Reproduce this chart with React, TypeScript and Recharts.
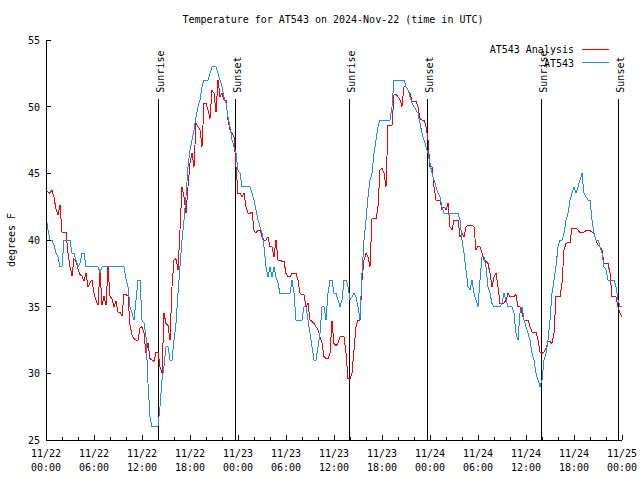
import React from "react";
import { LineChart, Line, XAxis, YAxis, ReferenceLine, ReferenceDot } from "recharts";

const FONT = "'DejaVu Sans Mono', 'Liberation Mono', monospace";
const RED = "#ff0000";
const BLUE = "#1a8cff";
const PLOT = { left: 46, right: 622, top: 40, bottom: 440 };

// readings every 15 minutes, 11/22 00:00 -> 11/25 00:00 (UTC)
const STEP_HOURS = 0.25;

const ANALYSIS = [
  43.75, 43.6, 43.5, 43.75, 43.2, 42.3, 41.9, 42.6, 40.6, 40.6,
  40.6, 39.0, 38.0, 37.3, 38.6, 38.4, 37.8, 37.4, 37.3, 36.9,
  37.5, 36.5, 36.8, 37.0, 36.0, 35.5, 35.1, 37.8, 35.1, 35.8,
  35.1, 38.0, 35.8, 35.6, 35.0, 35.4, 34.6, 34.6, 34.3, 35.9,
  35.9, 35.8, 33.6, 32.9, 32.6, 32.5, 32.5, 33.4, 33.5, 33.0,
  31.5, 32.3, 31.1, 31.0, 30.9, 31.6,
  31.6, 30.5, 30.0, 34.5, 33.75, 33.6, 32.5, 36.5, 38.5, 38.6,
  37.75, 40.75, 44, 43.25, 42, 44, 45.75, 46.5, 45.5, 48.75,
  48.5, 48.25, 47, 50.25, 50.25, 49.75, 49.1, 51.25, 51, 49.6,
  52, 50.75, 51, 50.5, 50.5, 49, 48.25, 48, 47.75, 45.5,
  43.5, 43.5, 43.25, 43.5, 42.5, 42, 42, 42.1, 40.75, 40.5,
  40.75, 40.75, 40.25, 40, 40, 40.25, 39.5, 39.5, 38.75, 40,
  38.5, 38.5, 38.4, 38.4, 37.5, 37.25, 37.25, 37.5, 37.5, 37.5,
  37, 36, 35.9, 35.9, 35, 35.25, 34, 33.9, 33.75, 33.5,
  33.25, 32.75, 32.25, 31.25, 31.1, 31.1, 31.5, 33.9, 32.25, 32.1,
  32.25, 32.75, 32.75, 32.75, 31.5, 29.6, 29.6, 30, 31.75, 33.5,
  34, 34, 37, 38.5, 39, 38.75, 38, 41.6, 41.6, 41.6,
  42.5, 45.25, 45.4, 45, 44, 48.6,
  48.6, 48.6, 50.9, 50.9, 50.75, 50.5, 50, 51.5, 51.5, 51.25,
  51, 50.4, 50.4, 50.4, 50, 49.1, 49, 49, 48.5, 47.5,
  45.5, 45.5, 44, 43, 43, 43, 42.25, 42.5, 42.25, 42.75,
  41, 40.75, 41.5, 41.5, 41.5, 40.25, 40.5, 40.25, 41, 41.1,
  41.1, 41.1, 41, 39.25, 39.5, 39.5, 39, 38.5, 38.4, 38.25,
  37.5, 36.5, 37.25, 37.5, 36.5, 35.25, 35.25, 35.25, 35.5, 36,
  35.75, 35.75, 35.75, 35.9, 35, 35, 34.5, 34, 34, 34,
  33.5, 33.1, 33.1, 33.1, 32.5, 31.6, 31.5, 31.6, 31.9, 32.4,
  32.4, 32.25, 33, 35.75, 35.75, 35.75, 36.75, 39.25, 39.75, 39.8,
  39.8, 40.9, 40.9, 40.9, 40.75, 40.55, 40.55, 40.6, 40.7, 40.7,
  40.7, 40.6, 40.5, 40, 39.6, 39.5, 39.25, 38.25, 38.25, 38.25,
  37.5, 35.75, 35.75, 35.75, 35, 34.5, 34.25,
];

const AT543 = [
  41.75, 40.75, 40, 40, 39.6, 39, 38.75, 38, 38, 40,
  40, 40, 40, 39, 39, 38.5, 38, 38.3, 39, 39,
  38, 38, 38, 38, 38, 38, 38, 37.5, 38, 38,
  38, 38, 38, 38, 38, 38, 38, 38, 38, 38,
  37.1, 36.5, 35, 34.5, 34, 35.5, 37, 37, 34, 33.75,
  32.75, 29.25, 26.75, 26, 26, 26,
  26, 27.5, 29.5, 30.5, 32, 32, 31, 31, 32.5, 33.75,
  36, 38, 40, 41.5, 43.25, 45.5, 46.75, 47.5, 48.25, 49.25,
  50, 50.5, 51.5, 52, 52, 52, 52.5, 53, 53, 53,
  52.5, 52, 51.5, 50.75, 50.25, 49.25, 48.5, 47.5, 47, 46.5,
  45.25, 45, 44, 44, 44, 44, 44, 43.5, 43, 42.25,
  41.5, 41, 40.5, 39.5, 38, 37.25, 38, 37.25, 38, 37.25,
  36.75, 36, 36, 36, 36, 36, 36, 37, 36, 34,
  34, 34, 34, 35, 35, 34, 33, 32, 31, 31,
  32, 33, 35, 35, 34, 36, 37, 37, 36, 36,
  35.5, 35, 35.5, 37, 37, 36.5, 35.5, 35.75, 36, 35.75,
  35, 34, 37.5, 40, 41.5, 43.25, 44.5, 45, 46.5, 47.5,
  48.5, 49, 49, 49, 49, 49,
  49, 50, 52, 52, 52, 52, 52, 52, 51.5, 51.25,
  50.75, 50.25, 50, 49.75, 49.5, 48.75, 48, 47.5, 47, 46.5,
  45.75, 45, 44.5, 44, 43.5, 43.25, 42.5, 42, 42, 42,
  42, 42, 42, 42, 42, 41.5, 40, 39, 37.75, 36.5,
  36.25, 37, 36, 35.5, 35, 37, 38.75, 38.75, 38, 36.5,
  36, 35.25, 35, 35, 35, 35, 35.25, 36, 35.5, 35,
  35, 35, 34.5, 33, 32.5, 34.5, 35, 34, 33.5, 33,
  32.5, 31.5, 31, 30, 29.5, 29, 29.5, 31, 31.5, 32.5,
  34, 36, 37, 38, 39.5, 40, 40, 40.5, 41.5, 42,
  43, 43.5, 44, 43.5, 44, 44.5, 45, 43.5, 43.25, 43,
  43, 41.5, 40.5, 40, 40, 39.5, 39, 38, 37.75, 37,
  37, 37, 37, 36.5, 35.5, 35, 35,
];

const SUN_HOURS = [14.04, 23.67, 37.92, 47.67, 61.92, 71.62];
const SUN_LABELS = ["Sunrise", "Sunset", "Sunrise", "Sunset", "Sunrise", "Sunset"];
const SUN_TOP = 50.6;

const Y_TICKS = [25, 30, 35, 40, 45, 50, 55];
const X_TICKS = [
  0, 2, 4, 6, 8, 10, 12, 14, 16, 18, 20, 22, 24, 26, 28, 30, 32, 34, 36,
  38, 40, 42, 44, 46, 48, 50, 52, 54, 56, 58, 60, 62, 64, 66, 68, 70, 72,
];
const MAJOR_HOURS = [0, 6, 12, 18, 24, 30, 36, 42, 48, 54, 60, 66, 72];
const DATE_LABELS = [
  "11/22", "11/22", "11/22", "11/22", "11/23", "11/23", "11/23",
  "11/23", "11/24", "11/24", "11/24", "11/24", "11/25",
];
const TIME_LABELS = [
  "00:00", "06:00", "12:00", "18:00", "00:00", "06:00", "12:00",
  "18:00", "00:00", "06:00", "12:00", "18:00", "00:00",
];

const data = ANALYSIS.map((v, i) => ({ h: i * STEP_HOURS, analysis: v, obs: AT543[i] }));

const txt = { fontFamily: FONT, fontSize: 10, fill: "#000" };

function BottomTick({ x, payload }: any) {
  const i = MAJOR_HOURS.indexOf(payload.value);
  const len = i >= 0 ? 5 : 3;
  return (
    <g>
      <line x1={x} x2={x} y1={PLOT.bottom} y2={PLOT.bottom - len} stroke="#000" shapeRendering="crispEdges" />
      {i >= 0 && (
        <>
          <text x={x} y={457} textAnchor="middle" style={txt}>{DATE_LABELS[i]}</text>
          <text x={x} y={471} textAnchor="middle" style={txt}>{TIME_LABELS[i]}</text>
        </>
      )}
    </g>
  );
}

function TopTick({ x, payload }: any) {
  const len = MAJOR_HOURS.includes(payload.value) ? 5 : 3;
  return <line x1={x} x2={x} y1={PLOT.top} y2={PLOT.top + len} stroke="#000" shapeRendering="crispEdges" />;
}

function LeftTick({ y, payload }: any) {
  return (
    <g>
      <line x1={PLOT.left} x2={PLOT.left + 5} y1={y} y2={y} stroke="#000" shapeRendering="crispEdges" />
      <text x={40} y={y + 4} textAnchor="end" style={txt}>{payload.value}</text>
    </g>
  );
}

function RightTick({ y }: any) {
  return <line x1={PLOT.right - 5} x2={PLOT.right} y1={y} y2={y} stroke="#000" shapeRendering="crispEdges" />;
}

function SunLabel({ cx, cy, text }: any) {
  const x = cx + 5.5;
  const y = cy - 6;
  return (
    <text x={x} y={y} transform={`rotate(-90 ${x} ${y})`} style={txt}>
      {text}
    </text>
  );
}

export default function App() {
  return (
    <div style={{ position: "absolute", left: 0, top: 0, width: 640, height: 480, background: "#fff" }}>
      <LineChart width={640} height={480} data={data} margin={{ top: 40, right: 18, bottom: 0, left: 0 }}>
        <XAxis
          dataKey="h"
          type="number"
          domain={[0, 72]}
          ticks={X_TICKS}
          interval={0}
          height={40}
          tick={<BottomTick />}
          tickLine={false}
          axisLine={{ stroke: "#000", shapeRendering: "crispEdges" }}
        />
        <XAxis
          xAxisId="top"
          orientation="top"
          dataKey="h"
          type="number"
          domain={[0, 72]}
          ticks={X_TICKS}
          interval={0}
          height={0}
          tick={<TopTick />}
          tickLine={false}
          axisLine={{ stroke: "#000", shapeRendering: "crispEdges" }}
        />
        <YAxis
          type="number"
          domain={[25, 55]}
          ticks={Y_TICKS}
          interval={0}
          width={46}
          tick={<LeftTick />}
          tickLine={false}
          axisLine={{ stroke: "#000", shapeRendering: "crispEdges" }}
        />
        <YAxis
          yAxisId="right"
          orientation="right"
          type="number"
          domain={[25, 55]}
          ticks={Y_TICKS}
          interval={0}
          width={0}
          tick={<RightTick />}
          tickLine={false}
          axisLine={{ stroke: "#000", shapeRendering: "crispEdges" }}
        />
        {SUN_HOURS.map((h, i) => (
          <ReferenceLine
            key={`l${i}`}
            segment={[{ x: h, y: 25 }, { x: h, y: SUN_TOP }]}
            stroke="#000"
            strokeWidth={1}
            shapeRendering="crispEdges"
          />
        ))}
        {SUN_HOURS.map((h, i) => (
          <ReferenceDot
            key={`d${i}`}
            x={h}
            y={SUN_TOP}
            r={2}
            shape={(p: any) => <SunLabel cx={p.cx} cy={p.cy} text={SUN_LABELS[i]} />}
          />
        ))}
        <Line type="linear" dataKey="analysis" stroke={RED} strokeWidth={1} dot={false} isAnimationActive={false} shapeRendering="crispEdges" />
        <Line type="linear" dataKey="obs" stroke={BLUE} strokeWidth={1} dot={false} isAnimationActive={false} shapeRendering="crispEdges" />
      </LineChart>
      <svg width={640} height={480} style={{ position: "absolute", left: 0, top: 0, pointerEvents: "none" }}>
        <text x={333} y={23} textAnchor="middle" style={txt}>
          Temperature for AT543 on 2024-Nov-22 (time in UTC)
        </text>
        <text x={15} y={240} textAnchor="middle" transform="rotate(-90 15 240)" style={txt}>
          degrees F
        </text>
        <text x={574} y={53} textAnchor="end" style={txt}>AT543 Analysis</text>
        <line x1={582} x2={609} y1={49.5} y2={49.5} stroke={RED} strokeWidth={1} />
        <text x={574} y={66.5} textAnchor="end" style={txt}>AT543</text>
        <line x1={582} x2={609} y1={62.5} y2={62.5} stroke={BLUE} strokeWidth={1} />
      </svg>
    </div>
  );
}
